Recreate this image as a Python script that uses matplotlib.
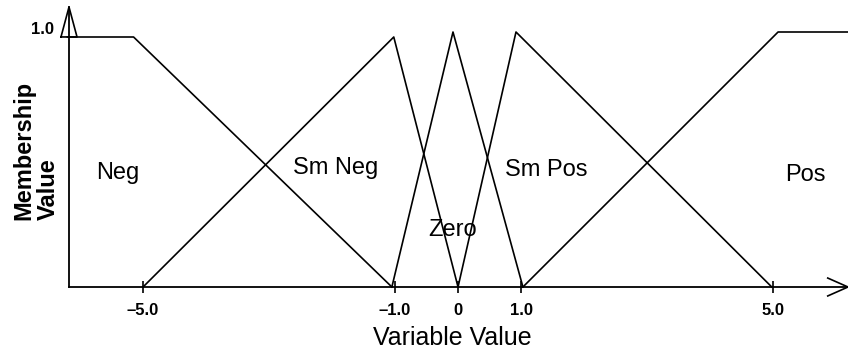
import matplotlib
matplotlib.use("Agg")
import matplotlib.pyplot as plt

plt.rcParams["font.family"] = ["Liberation Sans", "DejaVu Sans"]

# membership functions, breakpoints
neg_x = [-6.2, -5.15, -1.05]
neg_y = [1.0, 1.0, 0.0]
smneg_x = [-5.0, -1.02, 0.0]
smneg_y = [0.0, 1.0, 0.0]
zero_x = [-1.05, -0.08, 1.03]
zero_y = [0.0, 1.02, 0.0]
smpos_x = [0.0, 0.92, 4.98]
smpos_y = [0.0, 1.02, 0.0]
pos_x = [1.03, 5.08, 6.2]
pos_y = [0.0, 1.02, 1.02]

set_names = ["Neg", "Sm Neg", "Zero", "Sm Pos", "Pos"]
name_x = [-5.40, -1.95, -0.08, 1.40, 5.51]
name_y = [0.456, 0.476, 0.228, 0.468, 0.448]

xticks = [-5, -1, 0, 1, 5]
xtick_labels = ["\u20135.0", "\u20131.0", "0", "1.0", "5.0"]

# %%
fig = plt.figure(figsize=(8.48, 3.54), dpi=100)
ax = fig.add_axes([69 / 848, 67 / 354, 779 / 848, 280 / 354])

for xs, ys in [(neg_x, neg_y), (smneg_x, smneg_y), (zero_x, zero_y),
               (smpos_x, smpos_y), (pos_x, pos_y)]:
    ax.plot(xs, ys, color="black", lw=1.2, clip_on=False)

for name, x, y in zip(set_names, name_x, name_y):
    ax.text(x, y, name, fontsize=17, ha="center", va="center")

ax.set_xlim(-6.175, 6.19)
ax.set_ylim(0, 1.12)

for side in ["top", "right"]:
    ax.spines[side].set_visible(False)
for side in ["left", "bottom"]:
    ax.spines[side].set_linewidth(1.3)

ax.set_xticks(xticks)
ax.set_xticklabels(xtick_labels, fontweight="bold", fontsize=12)
ax.tick_params(axis="x", direction="inout", length=9, width=1.2, pad=7)
ax.set_yticks([1.0])
ax.set_yticklabels(["1.0"], fontweight="bold", fontsize=12, va="bottom")
ax.tick_params(axis="y", length=0, pad=11)

# arrow heads on the axes
ax.plot([-0.0103, 0.0, 0.0103, -0.0103], [0.893, 1.0, 0.893, 0.893],
        transform=ax.transAxes, color="black", lw=1.2, clip_on=False)
ax.plot([0.974, 1.0, 0.974], [0.032, 0.0, -0.032],
        transform=ax.transAxes, color="black", lw=1.2, clip_on=False)

fig.text(452 / 848, 1 - 338 / 354, "Variable Value", fontsize=18,
         ha="center", va="center")
fig.text(36 / 848, 1 - 220 / 354, "Membership\nValue", fontsize=17,
         fontweight="bold", rotation=90, ha="center", va="bottom",
         multialignment="left", linespacing=1.1)

fig.savefig("out.png", dpi=100)
